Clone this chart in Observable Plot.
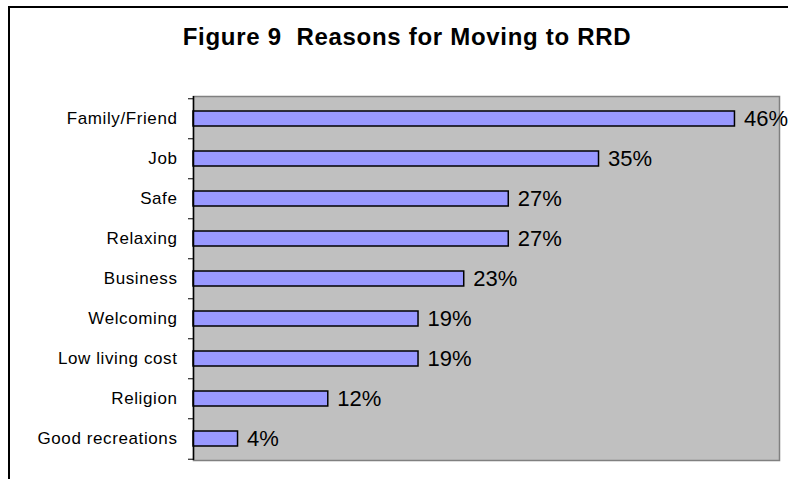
<!DOCTYPE html>
<html><head><meta charset="utf-8">
<script src="https://cdn.jsdelivr.net/npm/d3@7"></script>
<script src="https://cdn.jsdelivr.net/npm/@observablehq/plot@0.6"></script>
<style>
html,body{margin:0;padding:0;background:#fff;overflow:hidden;}
#wrap{position:relative;width:788px;height:479px;overflow:hidden;}
#frame{position:absolute;left:8px;top:6px;width:900px;height:600px;border-left:2px solid #000;border-top:2px solid #000;}
#title{position:absolute;left:9px;width:796px;top:25px;text-align:center;font:bold 24px "Liberation Sans",Arial,sans-serif;line-height:24px;letter-spacing:0.7px;white-space:pre;color:#000;}
#chart{position:absolute;left:0;top:0;}
#chart g[aria-label="y-axis tick label"] text{letter-spacing:0.6px;}
</style></head><body>
<div id="wrap"><div id="frame"></div><div id="title">Figure 9  Reasons for Moving to RRD</div><div id="chart"></div></div>
<script>
const categories = ["Family/Friend","Job","Safe","Relaxing","Business","Welcoming","Low living cost","Religion","Good recreations"];
const shares = [0.462, 0.346, 0.269, 0.269, 0.231, 0.192, 0.192, 0.115, 0.038];
const xMax = 0.5;

const data = categories.map((c, i) => ({category: c, share: shares[i]}));
const W = 788, H = 479, mL = 193, mR = 9, mT = 96, mB = 19;
const step = (H - mT - mB) / categories.length;
const fmt = d3.format(".0%");

const chart = Plot.plot({
  width: W, height: H,
  marginLeft: mL, marginRight: mR, marginTop: mT, marginBottom: mB,
  style: {fontFamily: '"Liberation Sans", Arial, sans-serif', background: "transparent", overflow: "visible", color: "#000"},
  x: {domain: [0, xMax], axis: null},
  y: {domain: categories, axis: null, paddingInner: 0.63, paddingOuter: 0.315},
  marks: [
    Plot.frame({fill: "#C0C0C0", stroke: "#808080", strokeWidth: 1.5}),
    Plot.barX(data, {x: "share", y: "category", fill: "#9999FF", stroke: "#000", strokeWidth: 1.5}),
    Plot.ruleX([0], {stroke: "#000", strokeWidth: 1.5}),
    Plot.axisY({tickSize: 0, tickPadding: 16, fontSize: 17, label: null}),
    Plot.axisY({text: null, tickSize: 5, label: null, dy: -step / 2}),
    Plot.axisY({ticks: [categories[categories.length - 1]], text: null, tickSize: 5, label: null, dy: step / 2}),
    Plot.text(data, {x: "share", y: "category", text: d => fmt(d.share), dx: 9, textAnchor: "start", fontSize: 22, fill: "#000"})
  ]
});
document.getElementById("chart").appendChild(chart);
</script>
</body></html>
